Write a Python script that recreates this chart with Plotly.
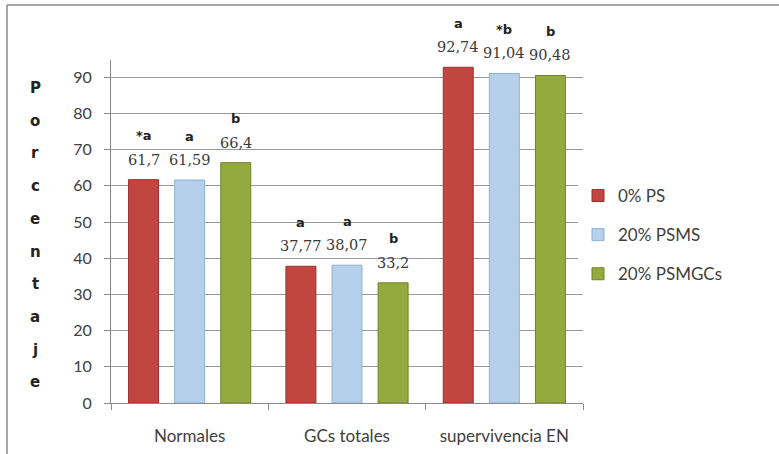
import plotly.graph_objects as go

# Data
categories = ["Normales", "GCs totales", "supervivencia EN"]
series_names = ["0% PS", "20% PSMS", "20% PSMGCs"]
ps0 = [61.7, 37.77, 92.74]
psms = [61.59, 38.07, 91.04]
psmgcs = [66.4, 33.2, 90.48]
letters_ps0 = ["*a", "a", "a"]
letters_psms = ["a", "a", "*b"]
letters_psmgcs = ["b", "b", "b"]
y_ticks = [0, 10, 20, 30, 40, 50, 60, 70, 80, 90]
y_title = "Porcentaje"

values = [ps0, psms, psmgcs]
letters = [letters_ps0, letters_psms, letters_psmgcs]
fills = ["#C0463F", "#B4D0EA", "#94AA3F"]
edges = ["#9A2F2C", "#8FB0CF", "#6F8229"]

W, H = 779, 454
L, R, T, B = 111, 196, 60, 51
plot_w = W - L - R
plot_h = H - T - B

bargap = 0.121
bargroupgap = 0.35
slot = (1 - bargap) / len(values)

fig = go.Figure()
for name, vals, fc, ec in zip(series_names, values, fills, edges):
    fig.add_trace(go.Bar(
        x=categories, y=vals, name=name,
        marker=dict(color=fc, line=dict(color=ec, width=1)),
        legendgroup=name,
    ))

num_font = dict(family="DejaVu Serif", size=14.5, color="#3a3a3a")
let_font = dict(family="DejaVu Sans", size=13, color="#222222")
annotations = []
for j, (vals, lets) in enumerate(zip(values, letters)):
    for i, (v, lt) in enumerate(zip(vals, lets)):
        xpos = i + (j - 1) * slot
        annotations.append(dict(x=xpos, y=v, xref="x", yref="y",
                                text=f"{v:g}".replace(".", ","),
                                showarrow=False, yshift=20, yanchor="middle",
                                font=num_font))
        annotations.append(dict(x=xpos, y=v, xref="x", yref="y",
                                text=f"<b>{lt}</b>",
                                showarrow=False, yshift=44, yanchor="middle",
                                font=let_font))

# Vertical y-axis title, one letter per line
title_x_px = 35
for k, ch in enumerate(y_title):
    py = 88 + k * 32.7
    annotations.append(dict(x=(title_x_px - L) / plot_w, y=(H - B - py) / plot_h,
                            xref="paper", yref="paper", text=f"<b>{ch}</b>",
                            showarrow=False, xanchor="center", yanchor="middle",
                            font=dict(family="DejaVu Sans", size=15, color="#222222")))

# Outer frame (left and top edges)
border = "#8a8a8a"
shapes = [
    dict(type="line", xref="paper", yref="paper",
         x0=(7 - L) / plot_w, x1=(7 - L) / plot_w,
         y0=(H - B - 5) / plot_h, y1=(H - B - H) / plot_h,
         line=dict(color=border, width=1.5)),
    dict(type="line", xref="paper", yref="paper",
         x0=(7 - L) / plot_w, x1=(W + 5 - L) / plot_w,
         y0=(H - B - 5) / plot_h, y1=(H - B - 5) / plot_h,
         line=dict(color=border, width=1.5)),
]

ymax = (H - B - T) / 36.2 * 10

fig.update_layout(
    width=W, height=H,
    margin=dict(l=L, r=R, t=T, b=B, pad=0, autoexpand=False),
    paper_bgcolor="white", plot_bgcolor="white",
    barmode="group", bargap=bargap, bargroupgap=bargroupgap,
    annotations=annotations, shapes=shapes,
    showlegend=True,
    legend=dict(x=(578 - L) / plot_w, y=(H - B - 178) / plot_h,
                xanchor="left", yanchor="top",
                font=dict(family="Lato", size=17, color="#404040"),
                tracegroupgap=14, itemwidth=30),
    font=dict(family="Lato", color="#404040"),
)
fig.update_xaxes(
    automargin=False,
    showline=True, linecolor="#8a8a8a", linewidth=1,
    ticks="outside", tickson="boundaries", ticklen=6, tickcolor="#8a8a8a",
    tickfont=dict(family="Lato", size=17, color="#404040"),
    ticklabelstandoff=18,
    showgrid=False,
)
fig.update_yaxes(
    automargin=False,
    range=[0, ymax], tickvals=y_ticks,
    showline=True, linecolor="#8a8a8a", linewidth=1,
    ticks="outside", ticklen=6, tickcolor="#8a8a8a",
    showgrid=True, gridcolor="#9a9a9a", gridwidth=1,
    tickfont=dict(family="Lato", size=16, color="#404040"),
    ticklabelstandoff=9,
    zeroline=False,
)

fig.write_html("out.html")
